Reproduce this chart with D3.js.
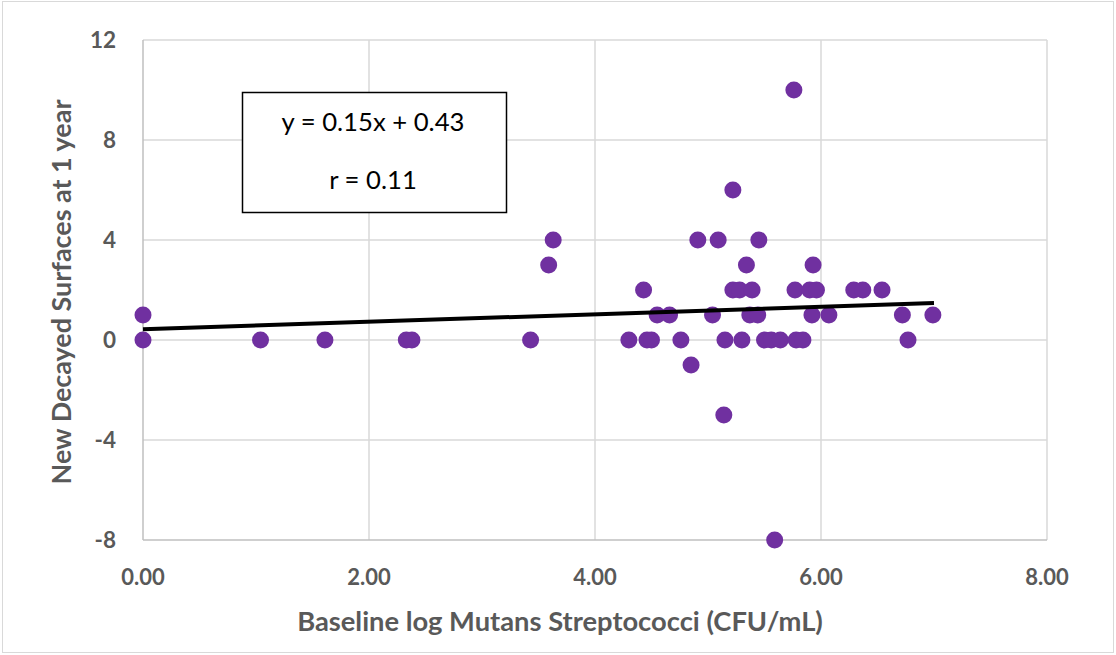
<!DOCTYPE html>
<html>
<head>
<meta charset="utf-8">
<script src="https://cdn.jsdelivr.net/npm/d3@7"></script>
<style>
  html, body { margin: 0; padding: 0; background: #fff; }
  svg { display: block; }
</style>
</head>
<body>
<svg id="chart" width="1116" height="655"></svg>
<script>
// ---- data ----
const xValues = [0.00, 0.00, 1.04, 1.61, 2.33, 2.38, 3.43, 3.59, 3.63,
  4.30, 4.43, 4.46, 4.50, 4.55, 4.66, 4.76, 4.85, 4.91, 5.04, 5.09,
  5.14, 5.15, 5.22, 5.22, 5.28, 5.30, 5.34, 5.37, 5.39, 5.44, 5.45,
  5.50, 5.56, 5.59, 5.64, 5.76, 5.77, 5.78, 5.84, 5.90, 5.92, 5.93,
  5.96, 6.07, 6.29, 6.37, 6.54, 6.72, 6.77, 6.99];
const yValues = [1, 0, 0, 0, 0, 0, 0, 3, 4,
  0, 2, 0, 0, 1, 1, 0, -1, 4, 1, 4,
  -3, 0, 2, 6, 2, 0, 3, 1, 2, 1, 4,
  0, 0, -8, 0, 10, 2, 0, 0, 2, 1, 3,
  2, 1, 2, 2, 2, 1, 0, 1];
const xTicks = [0, 2, 4, 6, 8];
const yTicks = [-8, -4, 0, 4, 8, 12];
const trendSlope = 0.15;
const trendIntercept = 0.43;
const trendRange = [0, 7.0];
const equationLabel = "y = 0.15x + 0.43";
const rLabel = "r = 0.11";
const xTitle = "Baseline log Mutans Streptococci (CFU/mL)";
const yTitle = "New Decayed Surfaces at 1 year";

// ---- layout ----
const svg = d3.select("#chart");
const x = d3.scaleLinear().domain([0, 8]).range([143, 1047]);
const y = d3.scaleLinear().domain([-8, 12]).range([540, 40]);
const textColor = "#595959";
const font = "Lato, 'Open Sans', sans-serif";

// outer border
svg.append("rect").attr("x", 2.5).attr("y", 1.5).attr("width", 1111).attr("height", 651)
  .attr("fill", "#fff").attr("stroke", "#d9d9d9").attr("stroke-width", 1);

// gridlines
svg.append("g").selectAll("line").data(yTicks.filter(d => d !== -8)).join("line")
  .attr("x1", x(0)).attr("x2", x(8)).attr("y1", d => y(d)).attr("y2", d => y(d))
  .attr("stroke", "#d9d9d9").attr("stroke-width", 1.5);
svg.append("g").selectAll("line").data(xTicks.filter(d => d !== 0)).join("line")
  .attr("x1", d => x(d)).attr("x2", d => x(d)).attr("y1", y(12)).attr("y2", y(-8))
  .attr("stroke", "#d9d9d9").attr("stroke-width", 1.5);

// axes lines
svg.append("line").attr("x1", x(0)).attr("x2", x(0)).attr("y1", y(12)).attr("y2", y(-8))
  .attr("stroke", "#bfbfbf").attr("stroke-width", 1.5);
svg.append("line").attr("x1", x(0)).attr("x2", x(8)).attr("y1", y(-8)).attr("y2", y(-8))
  .attr("stroke", "#bfbfbf").attr("stroke-width", 1.5);

// tick labels
svg.append("g").selectAll("text").data(yTicks).join("text")
  .attr("x", 116).attr("y", d => y(d)).attr("dy", "0.35em")
  .attr("text-anchor", "end").attr("fill", textColor)
  .attr("font-family", font).attr("font-weight", "bold").attr("font-size", 22.5)
  .text(d => d);
svg.append("g").selectAll("text").data(xTicks).join("text")
  .attr("x", d => x(d)).attr("y", 577).attr("dy", "0.35em")
  .attr("text-anchor", "middle").attr("fill", textColor)
  .attr("font-family", font).attr("font-weight", "bold").attr("font-size", 22)
  .text(d => d3.format(".2f")(d));

// axis titles
function fitFont(sel, target) {
  const w = sel.node().getComputedTextLength();
  const fs = parseFloat(sel.attr("font-size"));
  sel.attr("font-size", fs * target / w);
}
const xt = svg.append("text").attr("x", 560).attr("y", 621).attr("dy", "0.35em")
  .attr("text-anchor", "middle").attr("fill", textColor)
  .attr("font-family", font).attr("font-weight", "bold").attr("font-size", 22)
  .text(xTitle);
fitFont(xt, 526);
const yt = svg.append("text").attr("transform", "translate(62,292) rotate(-90)")
  .attr("dy", "0.35em").attr("text-anchor", "middle").attr("fill", textColor)
  .attr("font-family", font).attr("font-weight", "bold").attr("font-size", 22)
  .text(yTitle);
fitFont(yt, 385);

// points
const pts = xValues.map((v, i) => ({ x: v, y: yValues[i] }));
svg.append("g").selectAll("circle").data(pts).join("circle")
  .attr("cx", d => x(d.x)).attr("cy", d => y(d.y)).attr("r", 8.5)
  .attr("fill", "#7030a0");

// trendline on top of points
svg.append("line")
  .attr("x1", x(trendRange[0])).attr("y1", y(trendSlope * trendRange[0] + trendIntercept))
  .attr("x2", x(trendRange[1])).attr("y2", y(trendSlope * trendRange[1] + trendIntercept))
  .attr("stroke", "#000").attr("stroke-width", 4);

// equation box
svg.append("rect").attr("x", 242.5).attr("y", 92.5).attr("width", 264).attr("height", 120)
  .attr("fill", "#fff").attr("stroke", "#000").attr("stroke-width", 1.5);
const eq = svg.append("text").attr("x", 373).attr("y", 131)
  .attr("text-anchor", "middle").attr("fill", "#000")
  .attr("font-family", font).attr("font-size", 22).text(equationLabel);
fitFont(eq, 183);
svg.append("text").attr("x", 373).attr("y", 189)
  .attr("text-anchor", "middle").attr("fill", "#000")
  .attr("font-family", font).attr("font-size", parseFloat(eq.attr("font-size"))).text(rLabel);
</script>
</body>
</html>
